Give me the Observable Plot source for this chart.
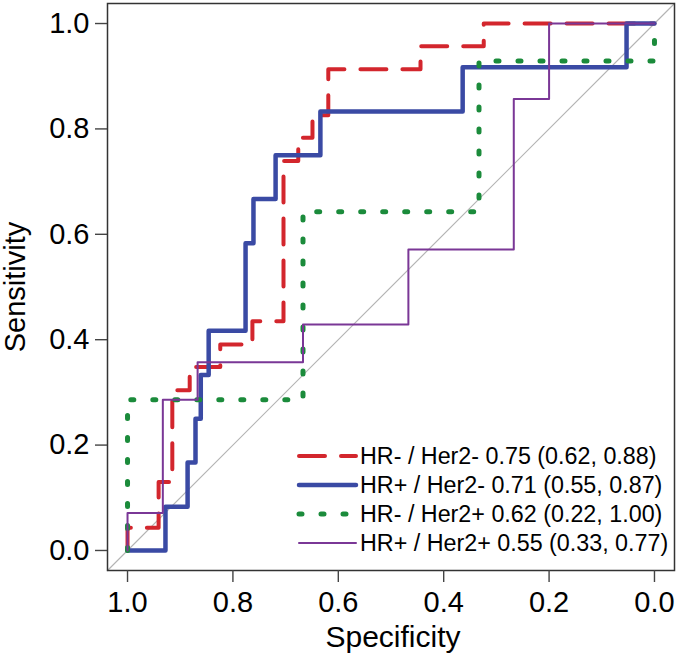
<!DOCTYPE html>
<html>
<head>
<meta charset="utf-8">
<script src="https://cdn.jsdelivr.net/npm/d3@7"></script>
<script src="https://cdn.jsdelivr.net/npm/@observablehq/plot@0.6"></script>
<style>
  html, body { margin: 0; padding: 0; background: #fff; }
  svg { display: block; }
</style>
</head>
<body>
<div id="chart"></div>
<script>
// ---- Data ----
const seriesNames = ["HR- / Her2-", "HR+ / Her2-", "HR- / Her2+", "HR+ / Her2+"];
const aucValues = [0.75, 0.71, 0.62, 0.55];
const ciLow = [0.62, 0.55, 0.22, 0.33];
const ciHigh = [0.88, 0.87, 1.00, 0.77];

// ROC corner points (specificity, sensitivity), drawn with a step-after curve
const specHRnHer2n = [1, 1, 0.941, 0.915, 0.882, 0.824, 0.763, 0.704, 0.676, 0.649, 0.619, 0.444, 0.324, 0];
const sensHRnHer2n = [0, 0.043, 0.130, 0.304, 0.348, 0.391, 0.435, 0.739, 0.783, 0.826, 0.913, 0.957, 1, 1];

const specHRpHer2n = [1, 0.928, 0.886, 0.871, 0.861, 0.846, 0.776, 0.761, 0.719, 0.634, 0.364, 0.053, 0];
const sensHRpHer2n = [0, 0.083, 0.167, 0.250, 0.333, 0.417, 0.583, 0.667, 0.750, 0.833, 0.917, 1, 1];

const specHRnHer2p = [1, 1, 0.667, 0.333, 0];
const sensHRnHer2p = [0, 0.286, 0.643, 0.929, 1];

const specHRpHer2p = [1, 1, 0.933, 0.867, 0.667, 0.467, 0.267, 0.200, 0];
const sensHRpHer2p = [0, 0.071, 0.286, 0.357, 0.429, 0.571, 0.857, 1, 1];

// chance diagonal (sensitivity = 1 - specificity) across the plotting region
const diagonalSpec = [1.038, -0.038];

const xTicks = [1.0, 0.8, 0.6, 0.4, 0.2, 0.0];
const yTicks = [0.0, 0.2, 0.4, 0.6, 0.8, 1.0];

// ---- Styles ----
const colors = ["#d3262d", "#3a4aa4", "#1b8b3b", "#7a3796"];
const widths = [4, 4.5, 5, 2];
const dashes = ["26,16", null, "3,19", null];

const specs = [specHRnHer2n, specHRpHer2n, specHRnHer2p, specHRpHer2p];
const senss = [sensHRnHer2n, sensHRpHer2n, sensHRnHer2p, sensHRpHer2p];

const curves = specs.map((sp, i) => sp.map((s, j) => ({spec: s, sens: senss[i][j]})));
const diag = diagonalSpec.map(s => ({spec: s, sens: 1 - s}));

const lineMarks = curves.map((data, i) => Plot.line(data, {
  x: "spec", y: "sens", curve: "step-after",
  stroke: colors[i], strokeWidth: widths[i],
  strokeDasharray: dashes[i] || undefined,
  strokeLinecap: "round", strokeLinejoin: "round"
}));

const plot = Plot.plot({
  width: 677,
  height: 659,
  marginLeft: 107,
  marginRight: 3,
  marginTop: 3,
  marginBottom: 89,
  style: {fontFamily: "'Liberation Sans', Arial, sans-serif", fontSize: "29px", color: "#000", background: "#fff", overflow: "visible"},
  x: {domain: [1.038, -0.038]},
  y: {domain: [-0.038, 1.038]},
  marks: [
    Plot.line(diag, {x: "spec", y: "sens", stroke: "#b4b4b4", strokeWidth: 1.2}),
    ...lineMarks,
    Plot.frame({stroke: "#333", strokeWidth: 1.5}),
    Plot.axisX({ticks: xTicks, tickSize: 12, tickPadding: 9, tickFormat: d => d.toFixed(1), label: null, stroke: "#444", strokeWidth: 1.4, fill: "#000"}),
    Plot.axisY({ticks: yTicks, tickSize: 12, tickPadding: 6, tickFormat: d => d.toFixed(1), label: null, stroke: "#444", strokeWidth: 1.4, fill: "#000"})
  ]
});

document.getElementById("chart").appendChild(plot);

// ---- Axis titles and legend ----
const svg = d3.select(plot);
svg.append("text")
  .attr("x", 393).attr("y", 647)
  .attr("text-anchor", "middle")
  .attr("font-size", 30)
  .attr("fill", "#000")
  .text("Specificity");
svg.append("text")
  .attr("transform", "translate(25,287) rotate(-90)")
  .attr("text-anchor", "middle")
  .attr("font-size", 29)
  .attr("fill", "#000")
  .text("Sensitivity");

const legend = svg.append("g").attr("font-size", 23.3).attr("text-anchor", "start");
seriesNames.forEach((name, i) => {
  const y = 456 + i * 29;
  const g = legend.append("g");
  g.append("line")
    .attr("x1", 299).attr("x2", 356).attr("y1", y).attr("y2", y)
    .attr("stroke", colors[i]).attr("stroke-width", widths[i])
    .attr("stroke-linecap", "round")
    .attr("stroke-dasharray", dashes[i] || null);
  g.append("text")
    .attr("x", 360).attr("y", y).attr("dy", "0.36em")
    .attr("text-anchor", "start")
    .attr("fill", "#000")
    .text(`${name} ${aucValues[i].toFixed(2)} (${ciLow[i].toFixed(2)}, ${ciHigh[i].toFixed(2)})`);
});
</script>
</body>
</html>
